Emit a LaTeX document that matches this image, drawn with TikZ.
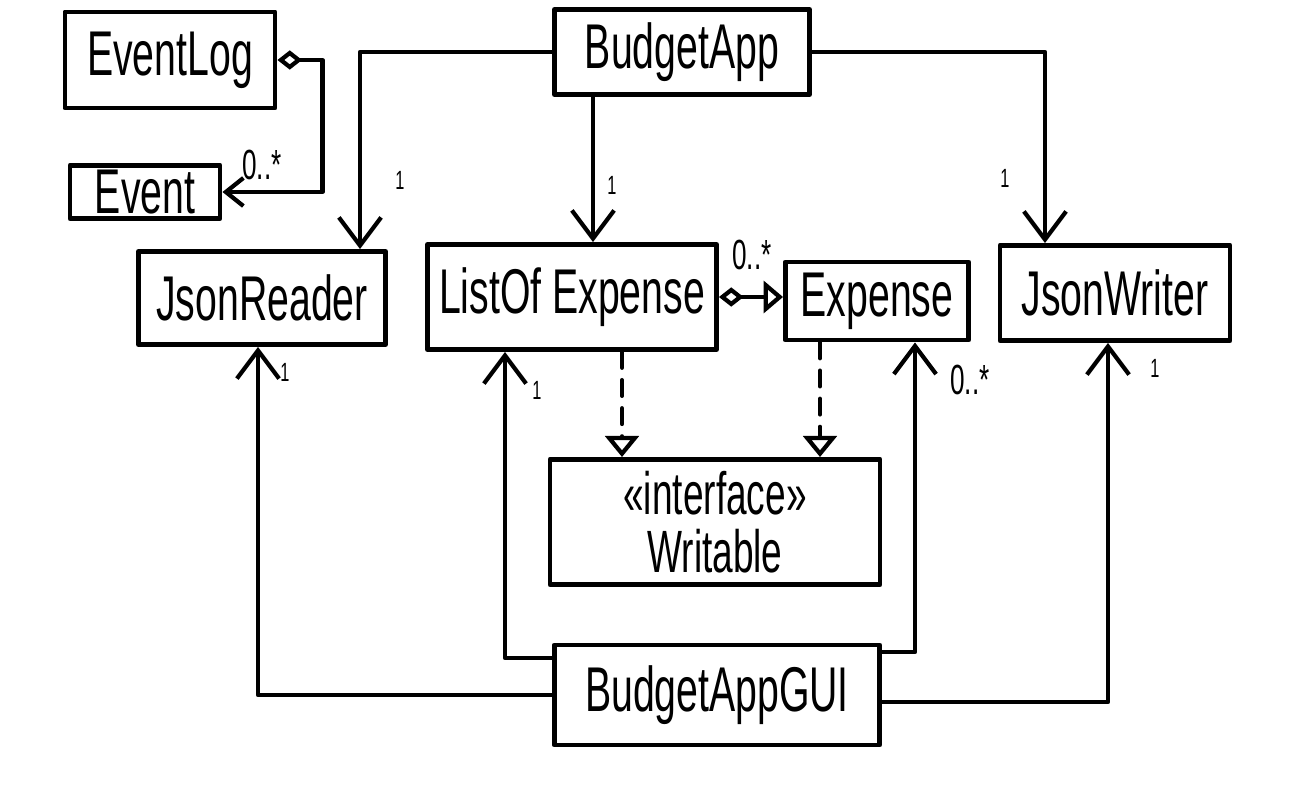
\documentclass[tikz,border=0pt]{standalone}
\usepackage{fontspec}
\setmainfont[FakeStretch=0.62]{Liberation Sans}
\usetikzlibrary{arrows.meta}
\begin{document}
\begin{tikzpicture}[x=0.02cm,y=-0.02cm,line width=2.4pt,line cap=round,line join=round]
\tikzstyle{every node}=[draw,rectangle,line width=2.8pt,inner sep=0pt,font=\fontsize{36}{36}\selectfont]
\tikzstyle{lbl}=[draw=none,font=\fontsize{24}{26}\selectfont]
\tikzstyle{one}=[draw=none,font=\fontsize{15}{16}\selectfont]
\tikzstyle{uses}=[-{Straight Barb[length=16pt,width=24pt]}]
\tikzstyle{has}=[{Diamond[open,length=14pt,width=11pt]}-{Straight Barb[length=10pt,width=16pt]}]
\tikzstyle{owns}=[{Diamond[open,length=14pt,width=11pt]}-{Triangle[open,length=11pt,width=18pt]}]
\tikzstyle{impl}=[dash pattern=on 9pt off 7pt,-{Triangle[open,length=12pt,width=19pt]}]
\useasboundingbox (0,0) rectangle (1299,787);
\foreach \a/\x/\y/\w/\h/\l in {elog/170/60/210/96/EventLog, event/145/192/150/53/Event,
  app/682/52/255/85/BudgetApp, jreader/262/298/247/93/JsonReader,
  list/572/297/289/105/ListOf Expense, expense/877/301/183/78/Expense,
  jwriter/1115/293/230/95/JsonWriter, gui/717/695/325/100/BudgetAppGUI}{
\path (\x,\y) node[minimum width=\w*0.02cm,minimum height=\h*0.02cm] (\a) {\l};
}
\path (715,522) node[minimum width=330*0.02cm,minimum height=125*0.02cm,align=center,font=\fontsize{34}{33}\selectfont] (wr) {«interface»\\Writable};
\draw[has] (elog.east) -- ++(45,0) |- (event.east);
\draw[uses] (app.west) -| (360,0 |- jreader.north);
\draw[uses] (593,0 |- app.south) -- (593,0 |- list.north);
\draw[uses] (app.east) -| (1045,0 |- jwriter.north);
\draw[owns] (list.east) -- (list.east -| expense.west);
\draw[impl] (622,0 |- list.south) -- (622,0 |- wr.north);
\draw[impl] (820,0 |- expense.south) -- (820,0 |- wr.north);
\draw[uses] (gui.west) -| (258,0 |- jreader.south);
\draw[uses] (gui.west |- 0,658) -| (505,0 |- list.south);
\draw[uses] (gui.east |- 0,652) -| (915,0 |- expense.south);
\draw[uses] (gui.east |- 0,702) -| (1108,0 |- jwriter.south);
\path (262,165) node[lbl] (m1) {0..*};
\path (752,255) node[lbl] (m2) {0..*};
\path (970,380) node[lbl] (m3) {0..*};
\foreach \n/\x/\y in {r1/400/180, r2/612/185, r3/1005/178, r4/285/372, r5/537/390, r6/1155/368}{
\path (\x,\y) node[one] (\n) {1};
}
\end{tikzpicture}
\end{document}
